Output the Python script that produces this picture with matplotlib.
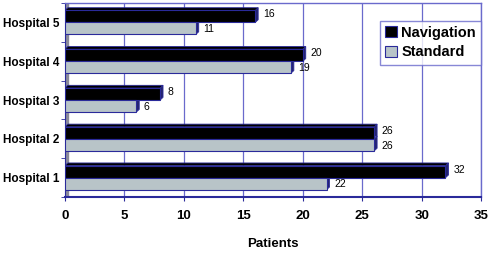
import numpy as np
import matplotlib.pyplot as plt
from matplotlib.patches import Polygon

plt.rcParams['font.family'] = ['Liberation Sans', 'DejaVu Sans']

hospitals = ['Hospital 1', 'Hospital 2', 'Hospital 3', 'Hospital 4', 'Hospital 5']
navigation = [32, 26, 8, 20, 16]
standard = [22, 26, 6, 19, 11]

edge = '#2a2a9a'
grid = '#6a6acc'
side = '#24246e'


def depth_faces(ax, x0, y0, w, h, dx, dy, color):
    # right face and top face to mimic the 3-d look
    ax.add_patch(Polygon([[x0 + w, y0], [x0 + w + dx, y0 + dy],
                          [x0 + w + dx, y0 + h + dy], [x0 + w, y0 + h]],
                         closed=True, facecolor=side, edgecolor=edge, lw=0.6, zorder=3))
    ax.add_patch(Polygon([[x0, y0 + h], [x0 + dx, y0 + h + dy],
                          [x0 + w + dx, y0 + h + dy], [x0 + w, y0 + h]],
                         closed=True, facecolor=color, edgecolor=edge, lw=0.6, zorder=3))


def main():
    fig = plt.figure(figsize=(4.88, 2.54), dpi=100)
    ax = fig.add_axes([0.133, 0.224, 0.853, 0.764])

    y = np.arange(len(hospitals))
    h = 0.31
    dx, dy = 0.25, 0.07

    ax.barh(y + h / 2, navigation, height=h, color='black', edgecolor=edge,
            lw=0.8, label='Navigation', zorder=4)
    ax.barh(y - h / 2, standard, height=h, color='#b8c4c8', edgecolor=edge,
            lw=0.8, label='Standard', zorder=4)

    for i in range(len(hospitals)):
        depth_faces(ax, 0, y[i], navigation[i], h, dx, dy, 'black')
        depth_faces(ax, 0, y[i] - h, standard[i], h, dx, dy, '#b8c4c8')
        ax.text(navigation[i] + 0.65, y[i] + h / 2 + 0.05, str(navigation[i]),
                fontsize=7.5, va='center', ha='left')
        ax.text(standard[i] + 0.65, y[i] - h / 2 - 0.02, str(standard[i]),
                fontsize=7.5, va='center', ha='left')

    ax.set_xlim(0, 35)
    ax.set_ylim(-0.5, 4.5)

    # left wall
    ax.axvspan(0, 0.3, color='#8a8a9a', zorder=1)
    for v in range(5, 36, 5):
        ax.axvline(v, color=grid, lw=0.9, zorder=1)

    for s in ['top', 'right']:
        ax.spines[s].set_color(grid)
        ax.spines[s].set_linewidth(1.0)
    ax.spines['left'].set_color(edge)
    ax.spines['bottom'].set_color(edge)
    ax.spines['bottom'].set_linewidth(1.5)

    ax.set_xticks(range(0, 36, 5))
    ax.set_xticklabels([str(v) for v in range(0, 36, 5)], fontsize=9.5, fontweight='bold')
    ax.set_yticks(y)
    ax.set_yticklabels(hospitals, fontsize=8.5, fontweight='bold')
    ax.tick_params(axis='x', colors=edge, labelcolor='black', length=3, pad=6)
    ax.tick_params(axis='y', colors=edge, labelcolor='black', length=3, pad=4)
    ax.set_yticks(np.arange(-0.5, 4.6, 1), minor=True)
    ax.tick_params(axis='y', which='minor', colors=edge, length=3)
    ax.tick_params(axis='y', which='major', length=0)

    ax.set_xlabel('Patients', fontsize=9.5, fontweight='bold', labelpad=12)

    leg = ax.legend(loc='upper right', bbox_to_anchor=(1.0, 0.91),
                    prop={'weight': 'bold', 'size': 10.5}, frameon=True, fancybox=False,
                    handlelength=0.8, handleheight=0.8, handletextpad=0.3,
                    borderpad=0.35, labelspacing=0.4, borderaxespad=0.0)
    leg.get_frame().set_edgecolor(grid)
    leg.get_frame().set_linewidth(1.0)

    plt.savefig('out.png', dpi=100)


if __name__ == '__main__':
    main()
